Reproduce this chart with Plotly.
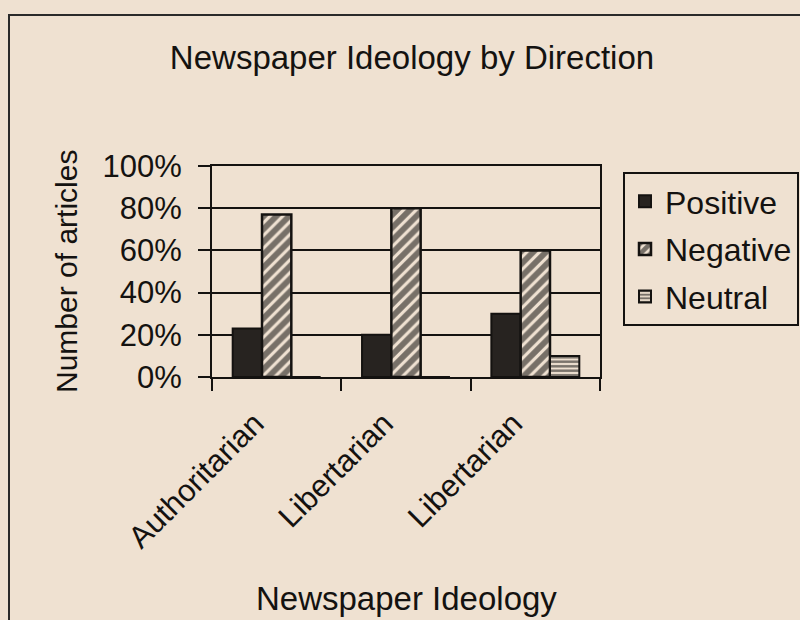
import plotly.graph_objects as go

# Newspaper ideology groups (the last two share the same label)
ideology_labels = ["Authoritarian", "Libertarian", "Libertarian"]
group_index = [0, 1, 2]

# Share of articles by direction, in percent
positive = [23, 20, 30]
negative = [77, 80, 60]
neutral = [0, 0, 10]

y_ticks = [0, 20, 40, 60, 80, 100]
y_tick_labels = ["0%", "20%", "40%", "60%", "80%", "100%"]

paper_bg = "#efe1d1"
ink = "#141210"
font_family = "Liberation Sans, Arial, sans-serif"

W, H = 800, 620
ML, MR, MT, MB = 212, 200, 166, 243
plot_w = W - ML - MR
plot_h = H - MT - MB


def px_to_paper_x(px):
    return (px - ML) / plot_w


def px_to_paper_y(py):
    return (H - MB - py) / plot_h


fig = go.Figure()

fig.add_trace(go.Bar(
    name="Positive", x=group_index, y=positive,
    legendgroup="pos",
    marker=dict(color="#272320", line=dict(color=ink, width=2)),
))
fig.add_trace(go.Bar(
    name="Negative", x=group_index, y=negative,
    legendgroup="neg",
    marker=dict(
        color=paper_bg,
        line=dict(color=ink, width=2.5),
        pattern=dict(shape="/", fgcolor="#000000", bgcolor=paper_bg, size=9, solidity=0.65),
    ),
))
fig.add_trace(go.Bar(
    name="Neutral", x=group_index, y=neutral,
    legendgroup="neu",
    marker=dict(
        color=paper_bg,
        line=dict(color=ink, width=2),
        pattern=dict(shape="-", fgcolor="#000000", bgcolor=paper_bg, size=4.5, solidity=0.55),
    ),
))

fig.update_layout(
    width=W, height=H,
    paper_bgcolor=paper_bg,
    plot_bgcolor=paper_bg,
    font=dict(family=font_family, color=ink, size=31),
    margin=dict(l=ML, r=MR, t=MT, b=MB, autoexpand=False),
    barmode="group",
    bargap=0.32,
    bargroupgap=0,
    showlegend=True,
    title=dict(
        text="Newspaper Ideology by Direction",
        x=412 / W, xref="container", xanchor="center",
        y=1 - 57 / H, yref="container", yanchor="middle",
        font=dict(size=33, family=font_family, color=ink),
    ),
    legend=dict(
        x=px_to_paper_x(623), y=px_to_paper_y(172),
        xanchor="left", yanchor="top",
        bgcolor=paper_bg,
        bordercolor=ink, borderwidth=2,
        font=dict(size=32, family=font_family, color=ink),
        traceorder="grouped",
        tracegroupgap=3,
        itemwidth=30,
    ),
    xaxis=dict(
        range=[-0.5, 2.5],
        tickmode="array",
        tickvals=group_index,
        ticktext=ideology_labels,
        tickangle=-45,
        ticks="",
        ticklabelshift=-22,
        ticklabelstandoff=14,
        showgrid=False,
        zeroline=False,
        showline=True, linecolor=ink, linewidth=2, mirror=True,
        minor=dict(
            tickmode="array",
            tickvals=[-0.5, 0.5, 1.5, 2.5],
            ticks="outside", ticklen=12, tickwidth=2, tickcolor=ink,
            showgrid=False,
        ),
        tickfont=dict(size=31),
    ),
    yaxis=dict(
        range=[0, 100],
        tickmode="array",
        tickvals=y_ticks,
        ticktext=y_tick_labels,
        ticks="outside", ticklen=12, tickwidth=2, tickcolor=ink,
        ticklabelstandoff=10,
        showgrid=True, gridcolor=ink, gridwidth=1.5,
        zeroline=False,
        showline=True, linecolor=ink, linewidth=2, mirror=True,
        tickfont=dict(size=31),
    ),
    shapes=[
        # outer chart frame
        dict(
            type="rect", xref="paper", yref="paper",
            x0=px_to_paper_x(9), x1=px_to_paper_x(830),
            y0=px_to_paper_y(660), y1=px_to_paper_y(15),
            line=dict(color="#2a2a2a", width=2),
            fillcolor="rgba(0,0,0,0)",
            layer="below",
        ),
    ],
    annotations=[
        dict(
            text="Newspaper Ideology", showarrow=False,
            xref="paper", yref="paper",
            x=px_to_paper_x(406), y=px_to_paper_y(598),
            xanchor="center", yanchor="middle",
            font=dict(size=33, family=font_family, color=ink),
        ),
        dict(
            text="Number of articles", showarrow=False,
            xref="paper", yref="paper",
            x=px_to_paper_x(66), y=px_to_paper_y(272),
            xanchor="center", yanchor="middle",
            textangle=-90,
            font=dict(size=30, family=font_family, color=ink),
        ),
    ],
)

fig.write_html("out.html")
